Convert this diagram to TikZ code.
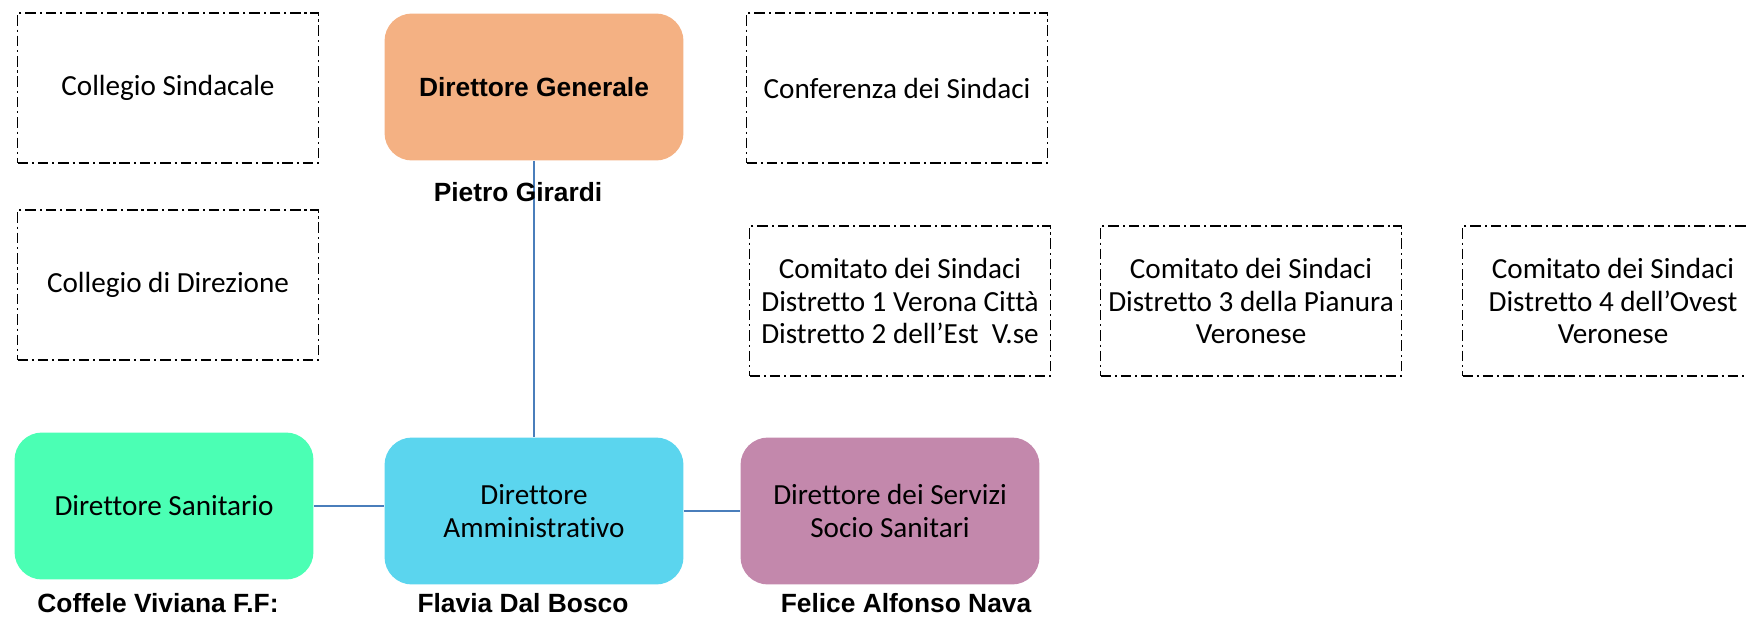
\documentclass[tikz,border=0pt]{standalone}
\usepackage{fontspec}
\setmainfont[Ligatures=NoCommon]{Carlito}
\newfontfamily\arialfont{Liberation Sans}
\usetikzlibrary{positioning}

\definecolor{dgorange}{HTML}{F4B183}
\definecolor{dsgreen}{HTML}{4BFFB4}
\definecolor{dablue}{HTML}{5BD5EE}
\definecolor{ddsmauve}{HTML}{C388AC}
\definecolor{linkblue}{HTML}{4A7EBB}

\begin{document}
\begin{tikzpicture}[
    x=0.02cm, y=-0.02cm,
    font=\fontsize{16.6}{18.6}\selectfont,
    board/.style={draw=black, line width=0.8pt, dash pattern=on 6pt off 2.2pt on 1.2pt off 2.2pt,
        minimum width=6.02cm, minimum height=3.0cm, align=center, inner sep=2pt},
    role/.style={rounded corners=0.55cm, minimum width=5.98cm, minimum height=2.94cm, align=center},
    holder/.style={font=\arialfont\bfseries\fontsize{15}{18}\selectfont},
    link/.style={draw=linkblue, line width=1.4pt}
]

\useasboundingbox (0,0) rectangle (1747,616);

% ===== Top row =====
\node[board] (cs) at (168,88) {Collegio Sindacale};
\node[role, fill=dgorange, font=\arialfont\bfseries\fontsize{15}{18}\selectfont] (dg) at (534,87) {Direttore Generale};
\node[board] (conf) at (897,88) {Conferenza dei Sindaci};

% ===== Committees =====
\node[board] (cdd) at (168,285) {Collegio di Direzione};
\node[board] (com1) at (900,301) {Comitato dei Sindaci\\Distretto 1 Verona Città\\Distretto 2 dell’Est\ \ V.se};
\node[board] (com2) at (1251,301) {Comitato dei Sindaci\\Distretto 3 della Pianura\\Veronese};
\node[board] (com3) at (1613,301) {Comitato dei Sindaci\\Distretto 4 dell’Ovest\\Veronese};

% ===== Bottom row =====
\node[role, fill=dsgreen] (ds) at (164,506) {Direttore Sanitario};
\node[role, fill=dablue] (da) at (534,511) {Direttore\\Amministrativo};
\node[role, fill=ddsmauve] (dds) at (890,511) {Direttore dei Servizi\\Socio Sanitari};

% Links
\draw[link] (dg.south) -- (da.north);
\draw[link] (ds.east) -- (ds.east -| da.west);
\draw[link] (da.east) -- (dds.west);

% Names
\node[holder] (dgname) at (518,192) {Pietro Girardi};
\node[holder] (dsname) at (158,603) {Coffele Viviana F.F:};
\node[holder] (daname) at (523,603) {Flavia Dal Bosco};
\node[holder] (ddsname) at (906,603) {Felice Alfonso Nava};

\end{tikzpicture}
\end{document}
